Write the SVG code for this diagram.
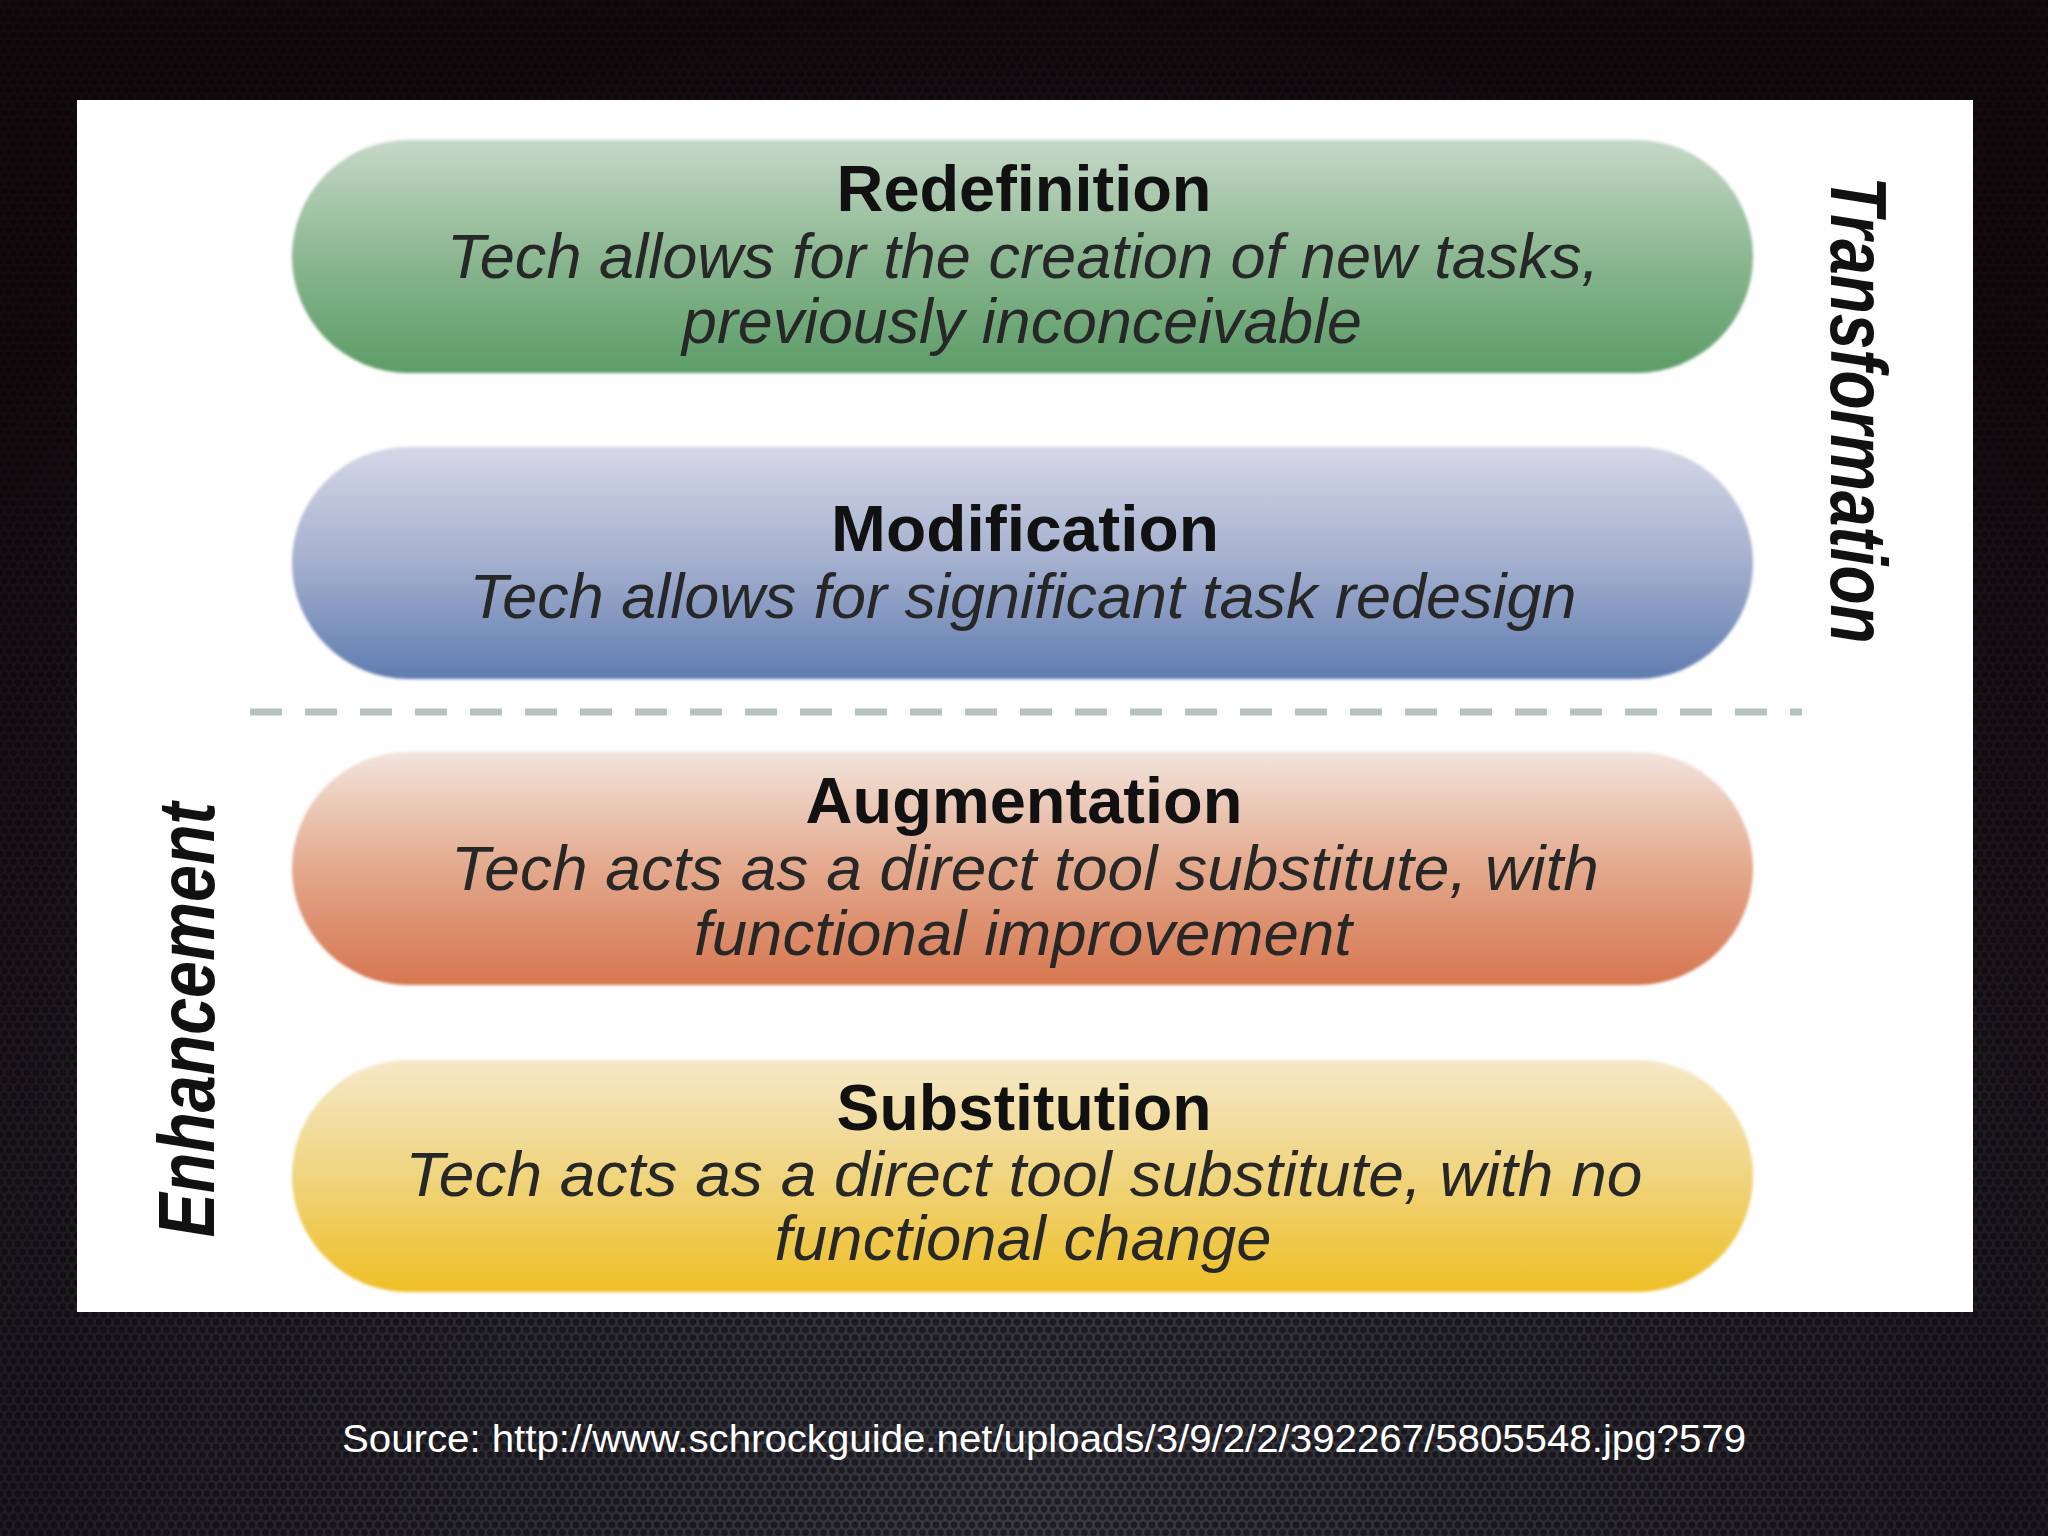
<svg xmlns="http://www.w3.org/2000/svg" width="2048" height="1536" viewBox="0 0 2048 1536">
  <defs>
    <radialGradient id="bg" cx="1024" cy="1500" r="1500" gradientUnits="userSpaceOnUse">
      <stop offset="0" stop-color="#3a3a42"/>
      <stop offset="0.5" stop-color="#26232a"/>
      <stop offset="1" stop-color="#140b0e"/>
    </radialGradient>
    <pattern id="hex" width="9" height="15.6" patternUnits="userSpaceOnUse">
      <circle cx="4.5" cy="3.9" r="3.3" fill="#07060a"/>
      <circle cx="0" cy="11.7" r="3.3" fill="#07060a"/>
      <circle cx="9" cy="11.7" r="3.3" fill="#07060a"/>
    </pattern>
    <linearGradient id="gGreen" x1="0" y1="0" x2="0" y2="1">
      <stop offset="0" stop-color="#c6d8c7"/>
      <stop offset="0.5" stop-color="#8bb791"/>
      <stop offset="1" stop-color="#5c9c67"/>
    </linearGradient>
    <linearGradient id="gBlue" x1="0" y1="0" x2="0" y2="1">
      <stop offset="0" stop-color="#d4d7e6"/>
      <stop offset="0.5" stop-color="#a3afce"/>
      <stop offset="1" stop-color="#5f7cb0"/>
    </linearGradient>
    <linearGradient id="gOrange" x1="0" y1="0" x2="0" y2="1">
      <stop offset="0" stop-color="#f2e4dc"/>
      <stop offset="0.5" stop-color="#e3a88c"/>
      <stop offset="1" stop-color="#d6764f"/>
    </linearGradient>
    <linearGradient id="gYellow" x1="0" y1="0" x2="0" y2="1">
      <stop offset="0" stop-color="#f5e8c8"/>
      <stop offset="0.5" stop-color="#f0d47e"/>
      <stop offset="1" stop-color="#efbf25"/>
    </linearGradient>
    <filter id="soft" x="-5%" y="-10%" width="110%" height="120%">
      <feGaussianBlur stdDeviation="1.5"/>
    </filter>
    <style>
      .title { font-family: "Liberation Sans", Arial, sans-serif; font-weight: bold; font-size: 64px; fill: #111; text-anchor: middle; }
      .desc { font-family: "Liberation Sans", Arial, sans-serif; font-style: italic; font-size: 63px; fill: #272727; text-anchor: middle; }
      .side { font-family: "Liberation Sans", Arial, sans-serif; font-weight: bold; font-style: italic; font-size: 64px; fill: #111; text-anchor: middle; }
      .src { font-family: "Liberation Sans", Arial, sans-serif; font-size: 38px; fill: #ffffff; }
    </style>
  </defs>

  <rect width="2048" height="1536" fill="url(#bg)"/>
  <rect width="2048" height="1536" fill="url(#hex)" opacity="0.55"/>

  <rect id="panel" x="77" y="100" width="1896" height="1212" fill="#fefefe"/>

  <g id="connectors">
    <line x1="250" y1="712" x2="1802" y2="712" stroke="#b8c0c0" stroke-width="7" stroke-dasharray="32 23"/>
  </g>

  <g id="redefinition">
    <rect x="292" y="140" width="1461" height="233" rx="116.5" fill="url(#gGreen)" filter="url(#soft)"/>
    <text class="title" x="1024" y="211" textLength="375" lengthAdjust="spacingAndGlyphs">Redefinition</text>
    <text class="desc" x="1023" y="278" textLength="1152" lengthAdjust="spacingAndGlyphs">Tech allows for the creation of new tasks,</text>
    <text class="desc" x="1022" y="343" textLength="680" lengthAdjust="spacingAndGlyphs">previously inconceivable</text>
  </g>

  <g id="modification">
    <rect x="292" y="447" width="1461" height="232" rx="116" fill="url(#gBlue)" filter="url(#soft)"/>
    <text class="title" x="1025" y="551" textLength="388" lengthAdjust="spacingAndGlyphs">Modification</text>
    <text class="desc" x="1023" y="618" textLength="1107" lengthAdjust="spacingAndGlyphs">Tech allows for significant task redesign</text>
  </g>

  <g id="augmentation">
    <rect x="292" y="752" width="1461" height="233" rx="116.5" fill="url(#gOrange)" filter="url(#soft)"/>
    <text class="title" x="1024" y="823" textLength="437" lengthAdjust="spacingAndGlyphs">Augmentation</text>
    <text class="desc" x="1025" y="890" textLength="1148" lengthAdjust="spacingAndGlyphs">Tech acts as a direct tool substitute, with</text>
    <text class="desc" x="1023" y="955" textLength="658" lengthAdjust="spacingAndGlyphs">functional improvement</text>
  </g>

  <g id="substitution">
    <rect x="292" y="1060" width="1461" height="232" rx="116" fill="url(#gYellow)" filter="url(#soft)"/>
    <text class="title" x="1024" y="1130" textLength="375" lengthAdjust="spacingAndGlyphs">Substitution</text>
    <text class="desc" x="1024" y="1196" textLength="1237" lengthAdjust="spacingAndGlyphs">Tech acts as a direct tool substitute, with no</text>
    <text class="desc" x="1023" y="1260" textLength="497" lengthAdjust="spacingAndGlyphs">functional change</text>
  </g>

  <g id="transformation-label">
    <text class="side" transform="translate(1831,410) rotate(90) scale(1,1.25)" x="0" y="0" textLength="467" lengthAdjust="spacingAndGlyphs">Transformation</text>
  </g>

  <g id="enhancement-label">
    <text class="side" transform="translate(214,1020) rotate(-90) scale(1,1.25)" x="0" y="0" textLength="435" lengthAdjust="spacingAndGlyphs">Enhancement</text>
  </g>

  <g id="source">
    <text class="src" x="342" y="1452" textLength="1404" lengthAdjust="spacingAndGlyphs">Source: http://www.schrockguide.net/uploads/3/9/2/2/392267/5805548.jpg?579</text>
  </g>
</svg>
